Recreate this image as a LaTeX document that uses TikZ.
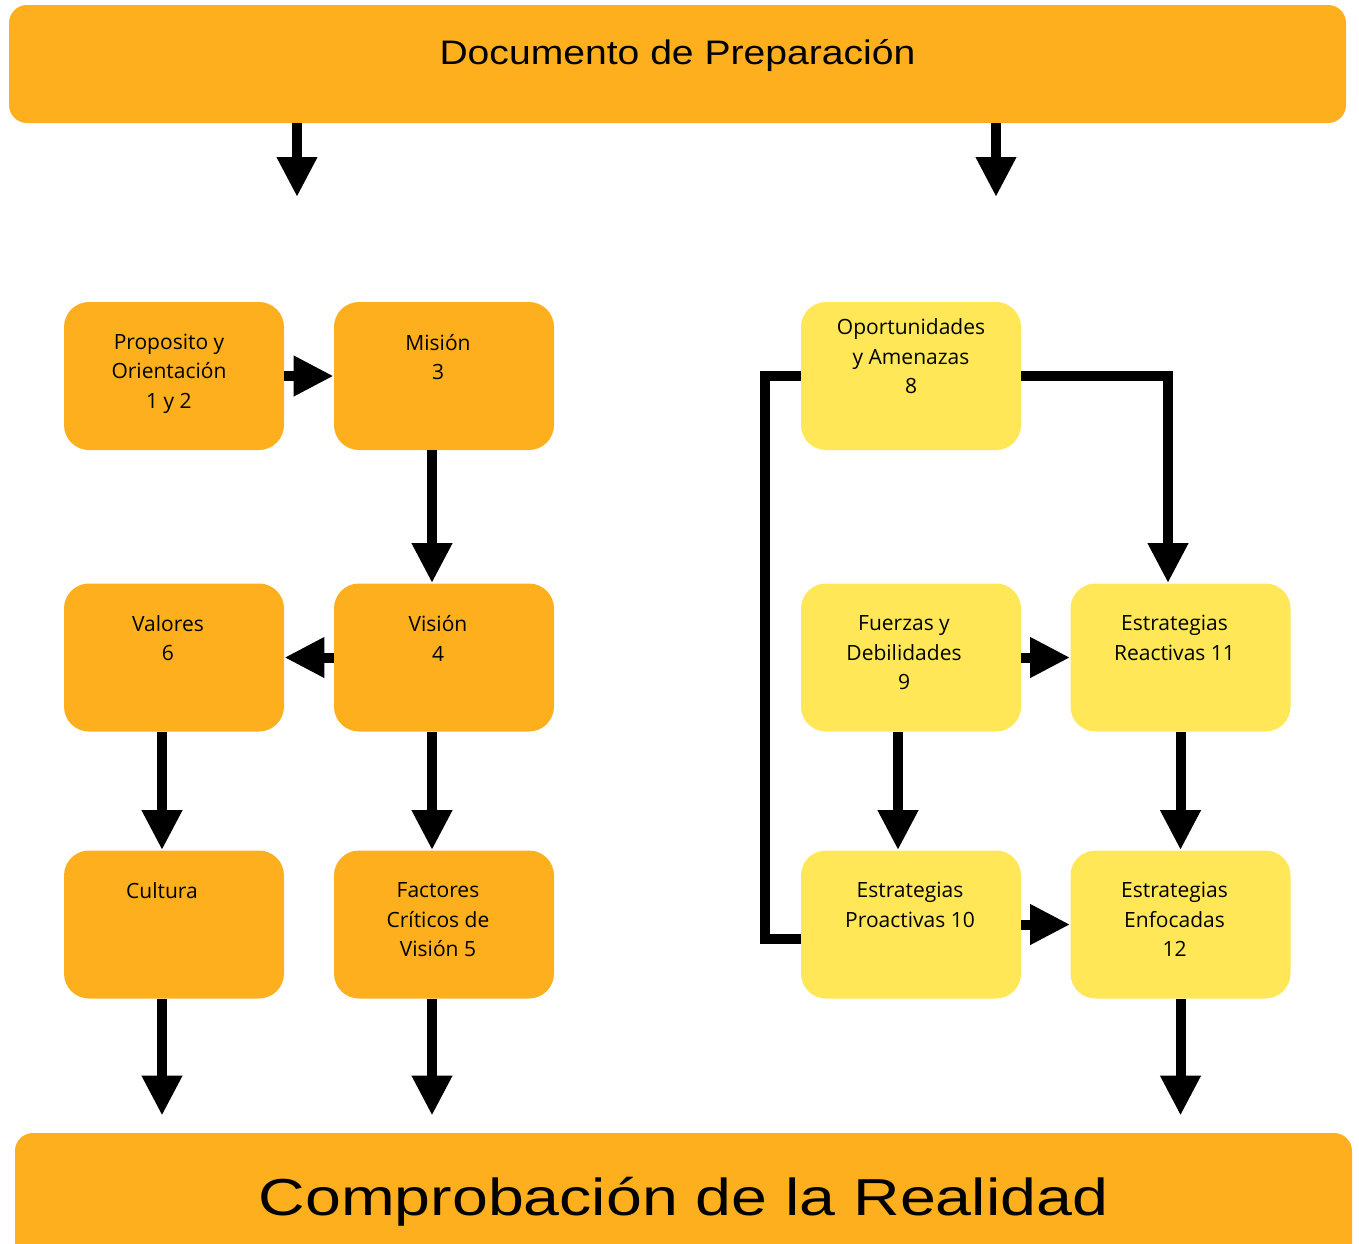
\documentclass[tikz,border=0pt]{standalone}
\usepackage{fontspec}
\setmainfont{Open Sans}
\newfontfamily\titulofont{Liberation Sans}
\usetikzlibrary{arrows.meta,positioning}
\definecolor{naranja}{RGB}{253,175,29}
\definecolor{amarillo}{RGB}{255,231,87}
\newcommand\cajatxt[3]{\parbox[c][74pt][t]{110pt}{\centering\rightskip=#2 plus 1fil\vspace*{#1}#3\par}}

\begin{document}
\begin{tikzpicture}[x=0.5pt,y=-0.5pt,
  caja/.style={rounded corners=12.5pt,minimum width=110pt,minimum height=74pt,
    font=\fontsize{10.5}{14.75}\selectfont},
  barra/.style={fill=naranja,rounded corners=9pt,text height=10pt,text depth=10pt},
  flecha/.style={line width=5pt,-{Triangle[width=19pt,length=20pt]}},
  linea/.style={line width=5pt}]
\tikzstyle{every node}+=[inner sep=0pt]
\useasboundingbox (0,0) rectangle (1359,1243);
\node [barra,minimum width=668.5pt,minimum height=59pt] (doc) at (677.5,64)
  {\titulofont\fontsize{17}{20}\selectfont\scalebox{1.15}[1]{Documento de Preparación}};
\node [barra,minimum width=668.5pt,minimum height=82pt] (fin) at (683.5,1215)
  {\titulofont\fontsize{26}{30}\selectfont\scalebox{1.24}[1]{Comprobación de la Realidad}};
\node [caja,fill=naranja] (proposito) at (174,376) {\cajatxt{16pt}{5pt}{Proposito y\\Orientación\\1 y 2}};
\node [caja,fill=naranja] (mision) at (444,376) {\cajatxt{16pt}{6pt}{Misión\\3}};
\node [caja,fill=naranja] (valores) at (174,657.5) {\cajatxt{16pt}{6pt}{Valores\\6}};
\node [caja,fill=naranja] (vision) at (444,657.5) {\cajatxt{16pt}{6pt}{Visión\\4}};
\node [caja,fill=naranja] (cultura) at (174,924.5) {\cajatxt{16pt}{12pt}{Cultura}};
\node [caja,fill=naranja] (factores) at (444,924.5) {\cajatxt{16pt}{6pt}{Factores\\Críticos de\\Visión 5}};
\node [caja,fill=amarillo] (oportunidades) at (911,376) {\cajatxt{8.5pt}{0pt}{Oportunidades\\y Amenazas\\8}};
\node [caja,fill=amarillo] (fuerzas) at (911,657.5) {\cajatxt{16pt}{7pt}{Fuerzas y\\Debilidades\\9}};
\node [caja,fill=amarillo] (reactivas) at (1180.5,657.5) {\cajatxt{16pt}{6pt}{Estrategias\\Reactivas 11}};
\node [caja,fill=amarillo] (proactivas) at (911,924.5) {\cajatxt{16pt}{1pt}{Estrategias\\Proactivas 10}};
\node [caja,fill=amarillo] (enfocadas) at (1180.5,924.5) {\cajatxt{16pt}{6pt}{Estrategias\\Enfocadas\\12}};
\coordinate (t1) at (297,197);
\coordinate (t2) at (996,197);
\draw [flecha] (t1 |- doc.south) -- (t1);
\draw [flecha] (t2 |- doc.south) -- (t2);
\draw [flecha] (proposito) -- (mision);
\draw [flecha] ([xshift=-6pt]mision.south) -- ([xshift=-6pt]vision.north);
\draw [flecha] (vision) -- (valores);
\draw [flecha] ([xshift=-6pt]valores.south) -- ([xshift=-6pt]cultura.north);
\draw [flecha] ([xshift=-6pt]vision.south) -- ([xshift=-6pt]factores.north);
\draw [flecha,shorten >=8.5pt] ([xshift=-6pt]cultura.south) -- ([xshift=-6pt]cultura.south |- fin.north);
\draw [flecha,shorten >=8.5pt] ([xshift=-6pt]factores.south) -- ([xshift=-6pt]factores.south |- fin.north);
\draw [flecha,shorten >=8.5pt] (enfocadas.south) -- (enfocadas.south |- fin.north);
\draw [flecha] (oportunidades.east) -| ([xshift=-6.25pt]reactivas.north);
\draw [linea] (oportunidades.west) -- ++(-36,0) |- ([yshift=-7pt]proactivas.west);
\draw [flecha] (fuerzas) -- (reactivas);
\draw [flecha] ([xshift=-6.5pt]fuerzas.south) -- ([xshift=-6.5pt]proactivas.north);
\draw [flecha] (reactivas) -- (enfocadas);
\draw [flecha] (proactivas) -- (enfocadas);
\end{tikzpicture}
\end{document}
